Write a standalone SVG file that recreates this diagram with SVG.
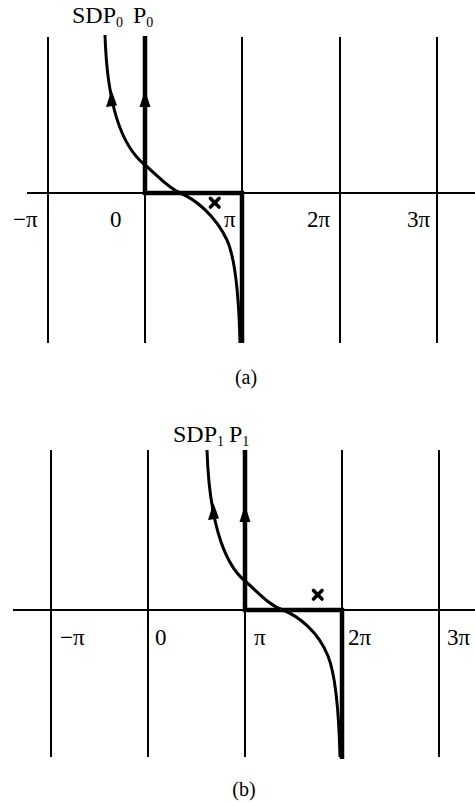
<svg xmlns="http://www.w3.org/2000/svg" width="475" height="803" viewBox="0 0 475 803">
<style>
.grid{stroke:#000;stroke-width:2;fill:none}
.thick{stroke:#000;stroke-width:4.5;fill:none;stroke-linejoin:miter}
.curve{stroke:#000;stroke-width:3;fill:none}
.lbl{font-family:"Liberation Serif","Times New Roman",serif;font-size:23px;fill:#000}
.ttl{font-family:"Liberation Serif","Times New Roman",serif;font-size:24px;fill:#000}
.sub{font-size:14px}
.cap{font-family:"Liberation Serif","Times New Roman",serif;font-size:20px;fill:#000;text-anchor:middle}
.mark{stroke:#000;stroke-width:3.6;stroke-linecap:round}
</style>
<rect width="475" height="803" fill="#fff"/>

<g id="panel-a">
  <g id="grid-a">
    <line class="grid" x1="48" y1="37" x2="48" y2="343"/>
    <line class="grid" x1="145" y1="37" x2="145" y2="343"/>
    <line class="grid" x1="242" y1="37" x2="242" y2="343"/>
    <line class="grid" x1="340" y1="37" x2="340" y2="343"/>
    <line class="grid" x1="437" y1="37" x2="437" y2="343"/>
    <line class="grid" x1="27" y1="193" x2="475" y2="193"/>
  </g>
  <g id="labels-a">
    <text class="lbl" x="13" y="227">−π</text>
    <text class="lbl" x="110" y="227">0</text>
    <text class="lbl" x="224" y="227">π</text>
    <text class="lbl" x="307" y="227">2π</text>
    <text class="lbl" x="407" y="227">3π</text>
  </g>
  <g id="title-a">
    <text class="ttl" x="72" y="23">SDP<tspan class="sub" dy="4">0</tspan><tspan dy="-4" x="133">P</tspan><tspan class="sub" dy="4">0</tspan></text>
  </g>
  <g id="connectors-a">
    <path class="thick" d="M145,36 V193 H242 V343"/>
    <path class="curve" d="M105,35 C107,100 120,145 145,165 C158,176 168,188 180,193 C195,199 215,215 227,240 C236,260 239,300 240,343"/>
    <polygon points="145,90 139.5,107 150.5,107" fill="#000"/>
    <polygon points="111.5,90 106,107 117,105.5" fill="#000"/>
  </g>
  <g id="pole-a">
    <line class="mark" x1="210.5" y1="198.5" x2="219" y2="207"/>
    <line class="mark" x1="219" y1="198.5" x2="210.5" y2="207"/>
  </g>
  <text class="cap" x="246" y="384">(a)</text>
</g>

<g id="panel-b">
  <g id="grid-b">
    <line class="grid" x1="51" y1="450" x2="51" y2="757"/>
    <line class="grid" x1="148" y1="450" x2="148" y2="757"/>
    <line class="grid" x1="245" y1="450" x2="245" y2="757"/>
    <line class="grid" x1="342" y1="450" x2="342" y2="757"/>
    <line class="grid" x1="439" y1="450" x2="439" y2="757"/>
    <line class="grid" x1="13" y1="610" x2="475" y2="610"/>
  </g>
  <g id="labels-b">
    <text class="lbl" x="60" y="645">−π</text>
    <text class="lbl" x="155" y="645">0</text>
    <text class="lbl" x="254" y="645">π</text>
    <text class="lbl" x="348" y="645">2π</text>
    <text class="lbl" x="447" y="645">3π</text>
  </g>
  <g id="title-b">
    <text class="ttl" x="173" y="442">SDP<tspan class="sub" dy="4">1</tspan><tspan dy="-4" x="229">P</tspan><tspan class="sub" dy="4">1</tspan></text>
  </g>
  <g id="connectors-b">
    <path class="thick" d="M245,450 V610 H342 V759"/>
    <path class="curve" d="M207,450 C209,515 222,562 245,581 C260,594 270,606 283,610 C298,616 318,631 328,656 C336,676 339,716 340,757"/>
    <polygon points="245,505 239.5,522 250.5,522" fill="#000"/>
    <polygon points="213.5,503 208,520 219,518.5" fill="#000"/>
  </g>
  <g id="pole-b">
    <line class="mark" x1="313.5" y1="590.5" x2="322" y2="599"/>
    <line class="mark" x1="322" y1="590.5" x2="313.5" y2="599"/>
  </g>
  <text class="cap" x="244" y="796">(b)</text>
</g>
</svg>
